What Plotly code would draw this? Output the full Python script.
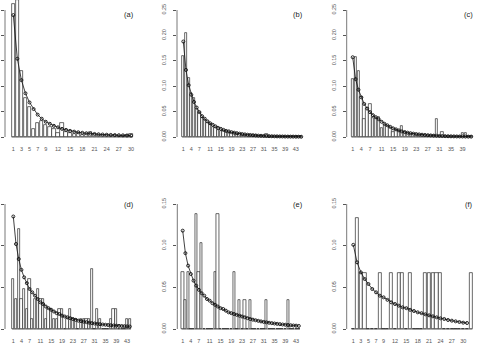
import plotly.graph_objects as go

W, H = 479, 344

# ---------------- data ----------------
a_bars = [0.262, 0.270, 0.130, 0.076, 0.060, 0.016, 0.027, 0.032, 0.024, 0.019,
          0.015, 0.007, 0.027, 0.010, 0.007, 0.005, 0.007, 0.004, 0.005, 0.009,
          0.006, 0.004, 0.003, 0.003, 0.002, 0.003, 0.002, 0.002, 0.003, 0.006]
a_pts = [0.240, 0.154, 0.112, 0.086, 0.068, 0.055, 0.044, 0.036, 0.030, 0.026,
         0.022, 0.019, 0.016, 0.014, 0.012, 0.0105, 0.0093, 0.0083, 0.0074, 0.0066,
         0.0060, 0.0054, 0.0049, 0.0045, 0.0041, 0.0038, 0.0035, 0.0032, 0.0030, 0.0028]
a_ticks = [1, 3, 5, 7, 9, 12, 15, 18, 21, 24, 27, 30]

b_bars = [0.159, 0.204, 0.117, 0.086, 0.076, 0.056, 0.047, 0.037, 0.033, 0.028,
          0.025, 0.020, 0.017, 0.014, 0.011, 0.011, 0.009, 0.008, 0.007, 0.007,
          0.006, 0.005, 0.004, 0.004, 0.004, 0.003, 0.004, 0.003, 0.002, 0.002,
          0.002, 0.005, 0.002, 0.002, 0.001, 0.002, 0.001, 0.001, 0.001, 0.001,
          0.001, 0.001, 0.001, 0.001, 0.001]
b_pts = [0.188, 0.132, 0.102, 0.083, 0.069, 0.058, 0.049, 0.041, 0.036, 0.031,
         0.027, 0.024, 0.021, 0.018, 0.016, 0.014, 0.012, 0.011, 0.0095, 0.0085,
         0.0075, 0.0066, 0.0058, 0.0051, 0.0045, 0.0040, 0.0035, 0.0031, 0.0027, 0.0024,
         0.0021, 0.0019, 0.0017, 0.0015, 0.0013, 0.0012, 0.0011, 0.0010, 0.0009, 0.0008,
         0.0007, 0.0007, 0.0006, 0.0006, 0.0005]
b_ticks = [1, 4, 7, 11, 15, 19, 23, 27, 31, 35, 39, 43]

c_bars = [0.114, 0.157, 0.129, 0.079, 0.035, 0.058, 0.064, 0.037, 0.037, 0.040,
          0.017, 0.024, 0.021, 0.017, 0.010, 0.014, 0.012, 0.021, 0.009, 0.007,
          0.006, 0.005, 0.004, 0.004, 0.003, 0.003, 0.004, 0.004, 0.004, 0.035,
          0.002, 0.009, 0.002, 0.002, 0.002, 0.002, 0.002, 0.002, 0.007, 0.007,
          0.002, 0.002]
c_pts = [0.157, 0.114, 0.093, 0.078, 0.065, 0.056, 0.049, 0.043, 0.039, 0.035,
         0.030, 0.026, 0.023, 0.020, 0.017, 0.015, 0.013, 0.011, 0.0098, 0.0085,
         0.0075, 0.0066, 0.0058, 0.0051, 0.0045, 0.0040, 0.0035, 0.0031, 0.0027, 0.0024,
         0.0021, 0.0019, 0.0017, 0.0015, 0.0013, 0.0012, 0.0011, 0.0010, 0.0009, 0.0008,
         0.0007, 0.0007]
c_ticks = [1, 4, 7, 11, 15, 19, 23, 27, 31, 35, 39]

d_bars = [0.060, 0.036, 0.120, 0.036, 0.048, 0.024, 0.060, 0.012, 0.036, 0.048,
          0.036, 0.036, 0.012, 0.024, 0.024, 0.012, 0.012, 0.024, 0.024, 0.0,
          0.012, 0.024, 0.012, 0.012, 0.0, 0.012, 0.012, 0.012, 0.012, 0.072,
          0.0, 0.024, 0.012, 0.0, 0.0, 0.0, 0.012, 0.024, 0.024, 0.0,
          0.0, 0.0, 0.012, 0.012]
d_pts = [0.135, 0.102, 0.084, 0.071, 0.062, 0.055, 0.048, 0.044, 0.040, 0.036,
         0.032, 0.030, 0.027, 0.025, 0.023, 0.021, 0.019, 0.018, 0.016, 0.015,
         0.014, 0.013, 0.012, 0.011, 0.010, 0.0095, 0.0088, 0.0082, 0.0076, 0.0071,
         0.0066, 0.0062, 0.0058, 0.0054, 0.0051, 0.0048, 0.0045, 0.0042, 0.0040, 0.0038,
         0.0036, 0.0034, 0.0032, 0.0030]
d_ticks = [1, 4, 7, 11, 15, 19, 23, 27, 31, 35, 39, 43]

e_bars = [0.069, 0.0345, 0.069, 0.0, 0.0, 0.138, 0.069, 0.1035, 0.0, 0.0,
          0.0, 0.0, 0.069, 0.138, 0.0, 0.0, 0.0, 0.0, 0.0, 0.069,
          0.0, 0.0345, 0.0, 0.0345, 0.0, 0.0345, 0.0, 0.0, 0.0, 0.0,
          0.0, 0.0345, 0.0, 0.0, 0.0, 0.0, 0.0, 0.0, 0.0, 0.0345,
          0.0, 0.0, 0.0, 0.0]
e_pts = [0.118, 0.091, 0.076, 0.066, 0.058, 0.052, 0.047, 0.043, 0.040, 0.036,
         0.034, 0.031, 0.029, 0.027, 0.025, 0.024, 0.022, 0.020, 0.019, 0.018,
         0.017, 0.016, 0.015, 0.014, 0.013, 0.012, 0.0112, 0.0105, 0.0098, 0.0091,
         0.0085, 0.0080, 0.0075, 0.0070, 0.0066, 0.0062, 0.0058, 0.0054, 0.0051, 0.0048,
         0.0045, 0.0042, 0.0040, 0.0037]
e_ticks = [1, 4, 7, 11, 15, 19, 23, 27, 31, 35, 39, 43]

f_bars = [0.0, 0.1333, 0.0667, 0.0667, 0.0, 0.0, 0.0, 0.0667, 0.0, 0.0,
          0.0667, 0.0, 0.0667, 0.0667, 0.0, 0.0667, 0.0, 0.0, 0.0, 0.0667,
          0.0667, 0.0667, 0.0667, 0.0667, 0.0, 0.0, 0.0, 0.0, 0.0, 0.0,
          0.0, 0.0667]
f_pts = [0.101, 0.080, 0.068, 0.060, 0.054, 0.048, 0.044, 0.040, 0.038, 0.035,
         0.032, 0.030, 0.028, 0.026, 0.025, 0.023, 0.0216, 0.020, 0.019, 0.0176,
         0.0164, 0.0152, 0.0140, 0.0128, 0.0120, 0.0108, 0.0100, 0.0092, 0.0084, 0.0076,
         0.0072]
f_ticks = [1, 3, 5, 7, 9, 12, 15, 18, 21, 24, 27, 30]

panel_names = ["(a)", "(b)", "(c)", "(d)", "(e)", "(f)"]
top_yticks = [0.00, 0.05, 0.10, 0.15, 0.20, 0.25]
bot_yticks = [0.00, 0.05, 0.10, 0.15]

# ---------------- layout geometry (pixels) ----------------
rows = [
    dict(base=137, scale=508.0, bottom=141, top=0, yticks=top_yticks),
    dict(base=329, scale=833.3, bottom=333, top=188, yticks=bot_yticks),
]
panels = [
    dict(bars=a_bars, pts=a_pts, ticks=a_ticks, L=5.0, c1=13.3, s=4.06, row=0, lab=False, lx=129, ly=15),
    dict(bars=b_bars, pts=b_pts, ticks=b_ticks, L=177.0, c1=183.3, s=2.68, row=0, lab=True, lx=298, ly=15),
    dict(bars=c_bars, pts=c_pts, ticks=c_ticks, L=346.7, c1=352.7, s=2.89, row=0, lab=True, lx=468, ly=15),
    dict(bars=d_bars, pts=d_pts, ticks=d_ticks, L=5.0, c1=13.3, s=2.71, row=1, lab=False, lx=129, ly=205),
    dict(bars=e_bars, pts=e_pts, ticks=e_ticks, L=177.3, c1=182.7, s=2.70, row=1, lab=True, lx=298, ly=205),
    dict(bars=f_bars, pts=f_pts, ticks=f_ticks, L=346.7, c1=353.3, s=3.79, row=1, lab=True, lx=469, ly=205),
]

FONT = "Liberation Sans, Arial, sans-serif"
AX = "#555555"
BW = 1 / 1.2

fig = go.Figure()
layout = dict(width=W, height=H, margin=dict(l=0, r=0, t=0, b=0),
              paper_bgcolor="white", plot_bgcolor="white", showlegend=False,
              font=dict(family=FONT, color=AX), bargap=0)
shapes, annotations = [], []

for i, p in enumerate(panels, start=1):
    r = rows[p["row"]]
    n = len(p["bars"])
    xs = list(range(1, n + 1))
    R = p["c1"] + (n - 1) * p["s"] + p["s"] * 0.5 + 4
    xlo = 1 - (p["c1"] - p["L"]) / p["s"]
    xhi = 1 + (R - p["c1"]) / p["s"]
    ylo = -(r["bottom"] - r["base"]) / r["scale"]
    yhi = (r["base"] - r["top"]) / r["scale"]
    sfx = "" if i == 1 else str(i)
    xa, ya = f"x{sfx}", f"y{sfx}"
    kx, ky = f"xaxis{sfx}", f"yaxis{sfx}"

    fig.add_trace(go.Bar(x=xs, y=p["bars"], width=BW, xaxis=xa, yaxis=ya,
                         marker=dict(color="white", line=dict(color="#2a2a2a", width=0.7))))
    fig.add_trace(go.Scatter(x=list(range(1, len(p["pts"]) + 1)), y=p["pts"], xaxis=xa, yaxis=ya,
                             mode="lines+markers", line=dict(color="#111111", width=0.8),
                             marker=dict(symbol="circle-open", size=3, color="#111111",
                                         line=dict(width=0.9, color="#111111"))))

    layout[kx] = dict(domain=[p["L"] / W, R / W], range=[xlo, xhi], anchor=ya,
                      tickvals=p["ticks"], ticktext=[str(t) for t in p["ticks"]],
                      ticks="", showline=False, showgrid=False, zeroline=False,
                      tickfont=dict(size=5.5, color=AX, family=FONT), ticklabelstandoff=3,
                      tickangle=0)
    layout[ky] = dict(domain=[1 - r["bottom"] / H, 1 - r["top"] / H], range=[ylo, yhi], anchor=xa,
                      tickvals=r["yticks"], ticktext=[f"{v:.2f}" for v in r["yticks"]],
                      ticks="outside", ticklen=3, tickcolor=AX, tickwidth=0.8,
                      showticklabels=p["lab"], tickangle=-90,
                      tickfont=dict(size=5.5, color=AX, family=FONT), ticklabelstandoff=5,
                      showline=False, showgrid=False, zeroline=False)
    # y axis line spanning first to last tick (R style)
    shapes.append(dict(type="line", xref=f"{xa} domain", yref=ya, x0=0, x1=0,
                       y0=r["yticks"][0], y1=r["yticks"][-1], line=dict(color=AX, width=0.8)))
    # baseline under the bars
    shapes.append(dict(type="line", xref=xa, yref=ya, x0=1 - BW / 2, x1=n + BW / 2,
                       y0=0, y1=0, line=dict(color="#333333", width=0.7), layer="below"))
    annotations.append(dict(text=panel_names[i - 1], xref="paper", yref="paper",
                            x=p["lx"] / W, y=1 - p["ly"] / H, showarrow=False,
                            xanchor="center", yanchor="middle",
                            font=dict(size=7.5, color="#222222", family=FONT)))

layout["shapes"] = shapes
layout["annotations"] = annotations
fig.update_layout(**layout)
fig.write_html("out.html")
